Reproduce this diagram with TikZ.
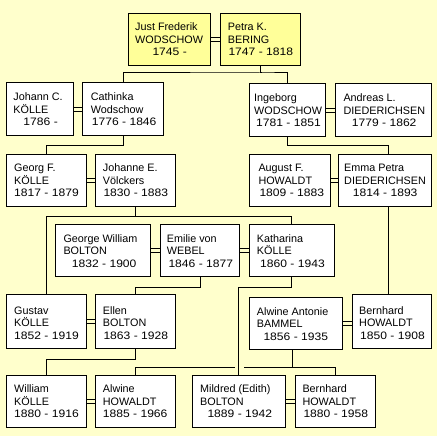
\documentclass[tikz,border=0pt]{standalone}
\usepackage{fontspec}
\usepackage{graphicx}
\setmainfont{Liberation Sans}
\definecolor{bgc}{HTML}{FFFFCC}
\definecolor{topc}{HTML}{FFFF99}
\tikzset{
  pbox/.style={draw=black, fill=white, line width=1bp, inner sep=0pt},
  ptxt/.style={anchor=base west, inner sep=0pt, font=\fontsize{10.8bp}{12.5bp}\selectfont},
  conn/.style={draw=black, line width=1bp},
}
\newcommand\pbox[6][white]{%
  \node[pbox, fill=#1, minimum width={(#5-#3)*1bp}, minimum height={(#6-#4)*1bp}] (#2) at ({(#3+#5)/2},{(#4+#6)/2}) {};%
  \def\cury{#6}}
\newcommand\ptext[6]{%
  \node[ptxt] (#1-a) at (#2,{\cury-34.3}) {#4};%
  \node[ptxt] (#1-b) at (#2,{\cury-21.8}) {#5};%
  \node[ptxt] (#1-c) at (#3,{\cury-9.3}) {\scalebox{1.12}[1]{#6}};}
\newcommand\marry[2]{%
  \draw[conn] ([yshift=2bp]#1.east) -- ([yshift=2bp]#1.east -| #2.west);%
  \draw[conn] ([yshift=-2bp]#1.east) -- ([yshift=-2bp]#1.east -| #2.west);}
\begin{document}
\begin{tikzpicture}[x=1bp,y=-1bp]
\fill[bgc] (0,0) rectangle (437,436);
\useasboundingbox (0,0) rectangle (437,436);

\pbox[topc]{jf}{128.3}{13.3}{210.7}{65.3}
\ptext{jf}{135}{152.3}{Just Frederik}{WODSCHOW}{1745 -}
\pbox[topc]{pk}{220.3}{13.3}{300.7}{65.3}
\ptext{pk}{227.7}{228.3}{Petra K.}{BERING}{1747 - 1818}

\pbox{jc}{6.7}{83}{73.7}{135.3}
\ptext{jc}{13.3}{23.3}{Johann C.}{KÖLLE}{1786 -}
\pbox{ca}{82.3}{83}{163.7}{135.3}
\ptext{ca}{90.7}{91.7}{Cathinka}{Wodschow}{1776 - 1846}
\pbox{ig}{249.7}{84}{325.7}{136.3}
\ptext{ig}{254}{256}{Ingeborg}{WODSCHOW}{1781 - 1851}
\pbox{al}{335}{84}{431.3}{136.3}
\ptext{al}{343.3}{351.7}{Andreas L.}{DIEDERICHSEN}{1779 - 1862}

\pbox{gf}{6.7}{154.3}{86.7}{206.3}
\ptext{gf}{14}{14}{Georg F.}{KÖLLE}{1817 - 1879}
\pbox{je}{95.7}{154.3}{175.3}{206.3}
\ptext{je}{102.7}{103.3}{Johanne E.}{Völckers}{1830 - 1883}
\pbox{af}{249.7}{154.3}{330.3}{206.3}
\ptext{af}{258.3}{259.3}{August F.}{HOWALDT}{1809 - 1883}
\pbox{ep}{338.7}{154.3}{431.7}{206.3}
\ptext{ep}{344}{352.7}{Emma Petra}{DIEDERICHSEN}{1814 - 1893}

\pbox{gw}{55.7}{224.3}{150.3}{276.3}
\ptext{gw}{63.3}{71.7}{George William}{BOLTON}{1832 - 1900}
\pbox{ew}{160.7}{224.3}{239.3}{276.3}
\ptext{ew}{166.7}{168.3}{Emilie von}{WEBEL}{1846 - 1877}
\pbox{kk}{249.3}{224.3}{334.3}{276.3}
\ptext{kk}{256.7}{260}{Katharina}{KÖLLE}{1860 - 1943}

\pbox{gk}{6.7}{294.3}{86.7}{348.7}
\ptext{gk}{14}{14}{Gustav}{KÖLLE}{1852 - 1919}
\pbox{eb}{95.7}{294.3}{175.3}{348.7}
\ptext{eb}{102.7}{103.3}{Ellen}{BOLTON}{1863 - 1928}
\pbox{aa}{249.7}{297.3}{342.3}{349.7}
\ptext{aa}{256.7}{263.3}{Alwine Antonie}{BAMMEL}{1856 - 1935}
\pbox{bha}{352.3}{294.3}{431.7}{348.7}
\ptext{bha}{359}{360}{Bernhard}{HOWALDT}{1850 - 1908}

\pbox{wk}{6.7}{375.7}{86.7}{427}
\ptext{wk}{14}{14}{William}{KÖLLE}{1880 - 1916}
\pbox{ah}{95.7}{375.7}{175.3}{427}
\ptext{ah}{102.7}{102.7}{Alwine}{HOWALDT}{1885 - 1966}
\pbox{mb}{192.3}{375.7}{285.3}{427}
\ptext{mb}{200}{207.3}{Mildred (Edith)}{BOLTON}{1889 - 1942}
\pbox{bhb}{295.3}{375.7}{375}{427}
\ptext{bhb}{302.3}{303.3}{Bernhard}{HOWALDT}{1880 - 1958}

% marriages
\marry{jf}{pk}
\marry{jc}{ca}
\marry{ig}{al}
\marry{gf}{je}
\marry{af}{ep}
\marry{gw}{ew}
\marry{ew}{kk}
\marry{gk}{eb}
\marry{aa}{bha}
\marry{wk}{ah}
\marry{mb}{bhb}

% descent
\coordinate (b1) at (260.7,73);
\draw[conn] (pk.south) |- (b1);
\draw[conn] (ca.north) |- (b1) -| (ig.north);
\draw[conn] (ca.south) -- ++(0,10) -| (gf.north);
\draw[conn] (ig.south) -- ++(0,9) -| ([xshift=3.1bp]ep.north);
\draw[conn] (je.south) -- ++(0,10) coordinate (b4);
\draw[conn] (gk.north) |- (b4) -| (kk.north);
\draw[conn] ([xshift=3.1bp]ep.south) -- ([xshift=3.1bp]ep.south |- bha.north);
\draw[conn] (ew.south) -- ++(0,10.4) -| (eb.north);
\draw[conn] (kk.south) -- ++(0,10.4) -| (mb.north);
\draw[conn] (eb.south) -- ++(0,10) -| (wk.north);
\coordinate (g1) at (235,367.3);
\coordinate (g2) at (244.3,367.3);
\draw[conn] ([xshift=-3.3bp]aa.south) -- ([xshift=-3.3bp]aa.south |- g2);
\draw[conn] (ah.north) |- (g1);
\draw[conn] (g2) -| (bhb.north);
\end{tikzpicture}
\end{document}
